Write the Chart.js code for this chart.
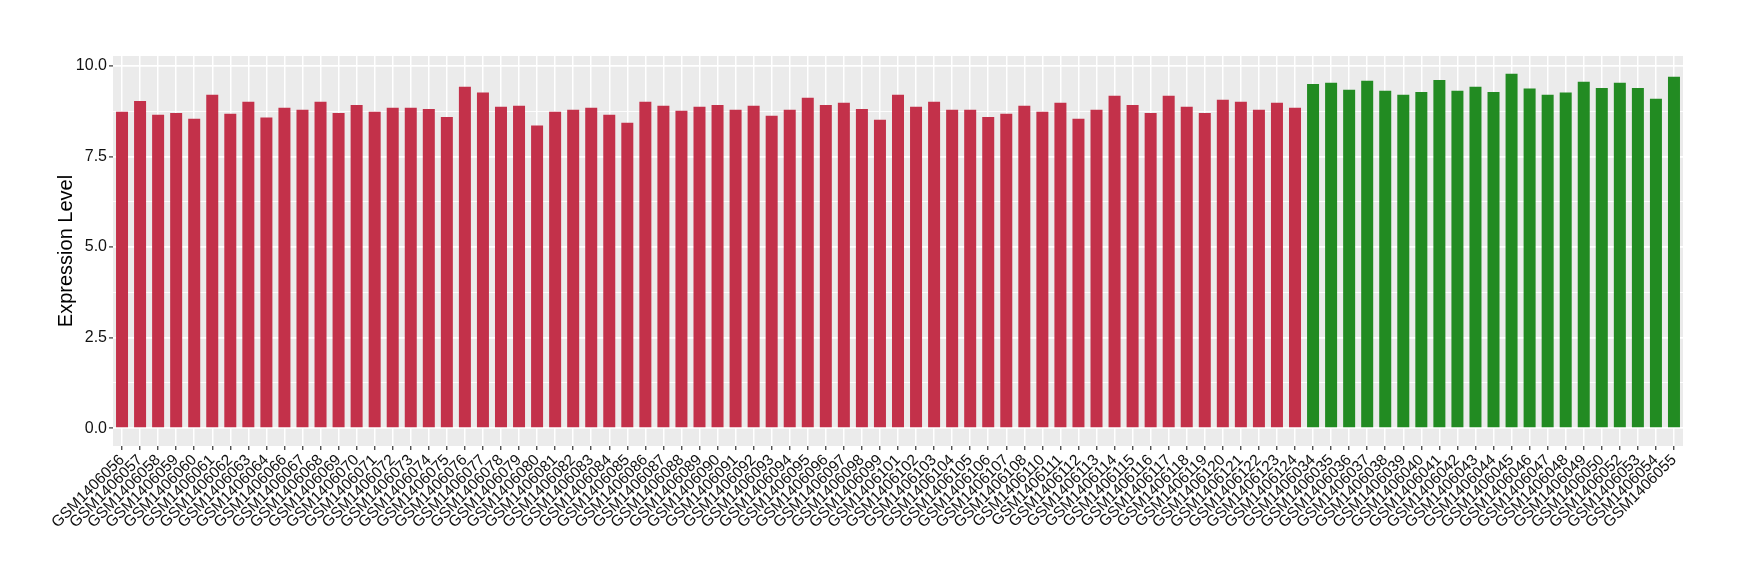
<!DOCTYPE html>
<html>
<head>
<meta charset="utf-8">
<script src="https://cdn.jsdelivr.net/npm/chart.js@4.4.1/dist/chart.umd.min.js"></script>
<style>
  html, body { margin: 0; padding: 0; background: #fff; }
  canvas { display: block; }
</style>
</head>
<body>
<canvas id="exprChart" width="1740" height="580"></canvas>
<script>
// red group
const groupASamples = [
  'GSM1406056','GSM1406057','GSM1406058','GSM1406059','GSM1406060','GSM1406061','GSM1406062','GSM1406063','GSM1406064',
  'GSM1406066','GSM1406067','GSM1406068','GSM1406069','GSM1406070','GSM1406071','GSM1406072','GSM1406073','GSM1406074',
  'GSM1406075','GSM1406076','GSM1406077','GSM1406078','GSM1406079','GSM1406080','GSM1406081','GSM1406082','GSM1406083',
  'GSM1406084','GSM1406085','GSM1406086','GSM1406087','GSM1406088','GSM1406089','GSM1406090','GSM1406091','GSM1406092',
  'GSM1406093','GSM1406094','GSM1406095','GSM1406096','GSM1406097','GSM1406098','GSM1406099',
  'GSM1406101','GSM1406102','GSM1406103','GSM1406104','GSM1406105','GSM1406106','GSM1406107','GSM1406108',
  'GSM1406110','GSM1406111','GSM1406112','GSM1406113','GSM1406114','GSM1406115','GSM1406116','GSM1406117',
  'GSM1406118','GSM1406119','GSM1406120','GSM1406121','GSM1406122','GSM1406123','GSM1406124'
];
const groupAValues = [
  8.73, 9.03, 8.65, 8.70, 8.54, 9.20, 8.68, 9.01, 8.57,
  8.84, 8.79, 9.01, 8.70, 8.92, 8.73, 8.84, 8.84, 8.81,
  8.59, 9.42, 9.26, 8.87, 8.90, 8.35, 8.73, 8.79, 8.84,
  8.65, 8.43, 9.01, 8.90, 8.76, 8.87, 8.92, 8.79, 8.90,
  8.62, 8.79, 9.12, 8.92, 8.98, 8.81, 8.51,
  9.20, 8.87, 9.01, 8.79, 8.79, 8.59, 8.68, 8.90,
  8.73, 8.98, 8.54, 8.79, 9.17, 8.92, 8.70, 9.17,
  8.87, 8.70, 9.06, 9.01, 8.79, 8.98, 8.84
];

// green group
const groupBSamples = [
  'GSM1406034','GSM1406035','GSM1406036','GSM1406037','GSM1406038','GSM1406039','GSM1406040',
  'GSM1406041','GSM1406042','GSM1406043','GSM1406044','GSM1406045','GSM1406046','GSM1406047',
  'GSM1406048','GSM1406049','GSM1406050','GSM1406052','GSM1406053','GSM1406054','GSM1406055'
];
const groupBValues = [
  9.50, 9.53, 9.34, 9.59, 9.31, 9.20, 9.28,
  9.61, 9.31, 9.42, 9.28, 9.78, 9.37, 9.20,
  9.26, 9.56, 9.39, 9.53, 9.39, 9.09, 9.70
];

const yMajorTicks = [0, 2.5, 5, 7.5, 10];
const yMinorTicks = [1.25, 3.75, 6.25, 8.75];

const colorA = '#C3314A';
const colorB = '#228B22';

const labels = groupASamples.concat(groupBSamples);
const values = groupAValues.concat(groupBValues);
const barColors = groupAValues.map(() => colorA).concat(groupBValues.map(() => colorB));

const FONT = "'Liberation Sans', Arial, Helvetica, sans-serif";

// grey panel like ggplot
const panelBg = {
  id: 'panelBg',
  beforeDraw(chart) {
    const { ctx, chartArea } = chart;
    ctx.save();
    ctx.fillStyle = '#ffffff';
    ctx.fillRect(0, 0, chart.width, chart.height);
    ctx.fillStyle = '#EBEBEB';
    ctx.fillRect(chartArea.left, chartArea.top, chartArea.right - chartArea.left, chartArea.bottom - chartArea.top);
    ctx.restore();
  }
};

const isMajor = v => yMajorTicks.some(t => Math.abs(t - v) < 1e-6);

new Chart(document.getElementById('exprChart'), {
  type: 'bar',
  data: {
    labels: labels,
    datasets: [{
      data: values,
      backgroundColor: barColors,
      borderWidth: 0,
      barPercentage: 0.665,
      categoryPercentage: 1.0
    }]
  },
  options: {
    responsive: false,
    devicePixelRatio: 1,
    animation: false,
    layout: { padding: { left: 0, right: 57, top: 56, bottom: 0 } },
    plugins: {
      legend: { display: false },
      tooltip: { enabled: false }
    },
    scales: {
      x: {
        offset: true,
        afterFit(scale) { scale.height = 134; },
        border: { display: false },
        grid: {
          offset: false,
          color: '#ffffff',
          lineWidth: 1.5,
          tickColor: '#333333',
          tickWidth: 1.2,
          tickLength: 4
        },
        ticks: {
          autoSkip: false,
          maxRotation: 45,
          minRotation: 45,
          padding: 1,
          color: '#111111',
          font: { family: FONT, size: 15.5 }
        }
      },
      y: {
        min: -0.489,
        max: 10.27,
        afterFit(scale) { scale.width = 113; },
        afterBuildTicks(scale) {
          scale.ticks = yMajorTicks.concat(yMinorTicks).sort((a, b) => a - b).map(v => ({ value: v }));
        },
        border: { display: false },
        grid: {
          color: '#ffffff',
          lineWidth: ctx => (ctx.tick && isMajor(ctx.tick.value)) ? 1.8 : 0.9,
          tickColor: ctx => (ctx.tick && isMajor(ctx.tick.value)) ? '#333333' : 'rgba(0,0,0,0)',
          tickWidth: 1.2,
          tickLength: 4
        },
        ticks: {
          padding: 2,
          color: '#111111',
          font: { family: FONT, size: 16 },
          callback: v => isMajor(v) ? v.toFixed(1) : ''
        },
        title: {
          display: true,
          text: 'Expression Level',
          color: '#000000',
          font: { family: FONT, size: 20 },
          padding: { top: 54, bottom: 0 }
        }
      }
    }
  },
  plugins: [panelBg]
});
</script>
</body>
</html>
